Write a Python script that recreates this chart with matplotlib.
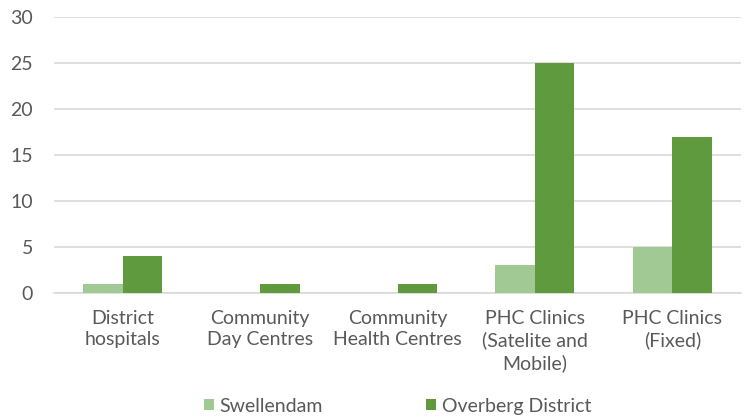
import numpy as np
import matplotlib.pyplot as plt

categories = ["District\nhospitals", "Community\nDay Centres", "Community\nHealth Centres",
              "PHC Clinics\n(Satelite and\nMobile)", "PHC Clinics\n(Fixed)"]
swellendam = [1, 0, 0, 3, 5]
overberg = [4, 1, 1, 25, 17]

light = "#a1c993"
dark = "#5f9a3e"
grey = "#595959"

plt.rcParams['font.family'] = ['Lato', 'DejaVu Sans']

fig = plt.figure(figsize=(7.47, 4.19), dpi=100)
ax = fig.add_axes([54/747, 1-293/419, 687/747, 276/419])

x = np.arange(len(categories))
w = 0.287
ax.bar(x - w/2, swellendam, w, color=light, label="Swellendam", zorder=3)
ax.bar(x + w/2, overberg, w, color=dark, label="Overberg District", zorder=3)

ax.set_xlim(-0.5, len(categories) - 0.5)
ax.set_ylim(0, 30)
ax.set_yticks(range(0, 31, 5))
ax.yaxis.grid(True, color="#d9d9d9", linewidth=1.2, zorder=0)
ax.set_xticks(x)
ax.set_xticklabels(categories, linespacing=1.33)
ax.tick_params(axis="both", length=0, labelsize=14, colors=grey)
ax.tick_params(axis="x", pad=12)
ax.tick_params(axis="y", pad=15)
for s in ["top", "right", "left"]:
    ax.spines[s].set_visible(False)
ax.spines["bottom"].set_color("#d9d9d9")
ax.spines["bottom"].set_linewidth(1.2)

leg = ax.legend(loc="center", bbox_to_anchor=(0.5, -0.41), ncol=2, frameon=False,
                fontsize=14, handlelength=0.5, handleheight=0.5, handletextpad=0.3,
                columnspacing=5.3)
for t in leg.get_texts():
    t.set_color(grey)

fig.savefig("out.png", dpi=100)
